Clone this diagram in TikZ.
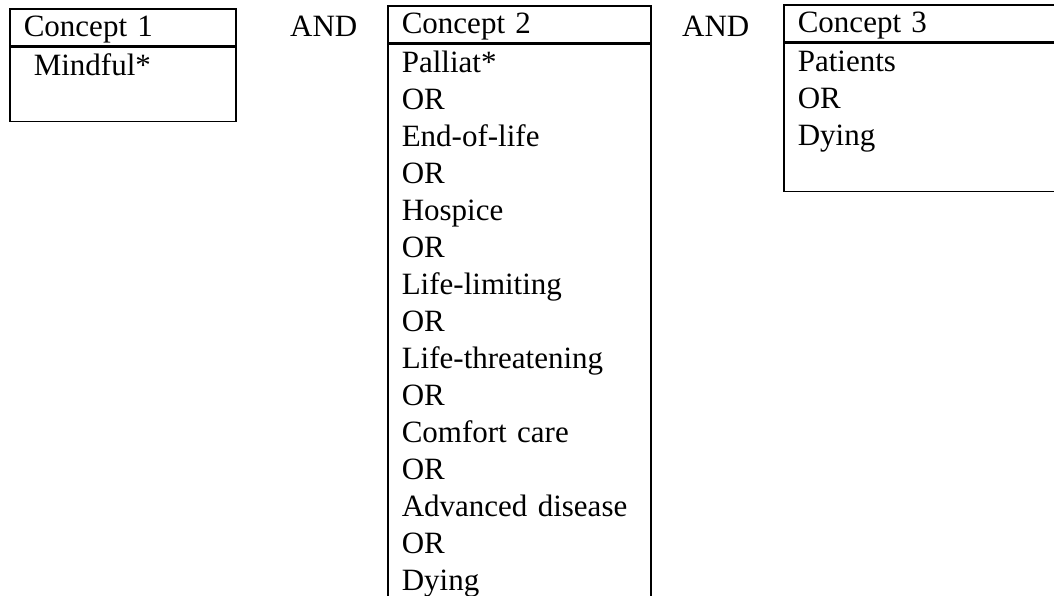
\documentclass[tikz,border=0pt]{standalone}
\usepackage{fontspec}
\setmainfont{Liberation Serif}
\usetikzlibrary{positioning}

\newcommand{\rowstrut}{\rule[-9pt]{0pt}{37pt}}
\tikzset{
    cbox/.style={draw, line width=1.6pt, inner xsep=14pt, inner ysep=0pt, align=left, font=\fontsize{31}{37}\selectfont},
    andlabel/.style={inner sep=0pt, anchor=base west, font=\fontsize{31}{37}\selectfont}
}

\begin{document}
\begin{tikzpicture}[x=1pt,y=-1pt]
    \useasboundingbox (0,0) rectangle (1054,596);
    \clip (0,0) rectangle (1054,596);

    % concept 1
    \node [cbox,text width=198pt,anchor=north west] (head1) at (9,8) {\rowstrut Concept 1};
    \node [cbox,text width=198pt,below=0pt of head1] (body1) {\rowstrut\hspace*{10pt}Mindful*\\ \rowstrut};

    \node [andlabel] (and1) at (290,37) {AND};

    % concept 2
    \node [cbox,text width=235pt,anchor=north west] (head2) at (387,5) {\rowstrut Concept 2};
    \node [cbox,text width=235pt,below=0pt of head2] (body2) {\rowstrut Palliat*\\ \rowstrut OR\\ \rowstrut End-of-life\\ \rowstrut OR\\ \rowstrut Hospice\\ \rowstrut OR\\ \rowstrut Life-limiting\\ \rowstrut OR\\ \rowstrut Life-threatening\\ \rowstrut OR\\ \rowstrut Comfort care\\ \rowstrut OR\\ \rowstrut Advanced disease\\ \rowstrut OR\\ \rowstrut Dying};

    \node [andlabel] (and2) at (682,37) {AND};

    % concept 3
    \node [cbox,text width=264pt,anchor=north west] (head3) at (783,4) {\rowstrut Concept 3};
    \node [cbox,text width=264pt,below=0pt of head3] (body3) {\rowstrut Patients\\ \rowstrut OR\\ \rowstrut Dying\\ \rowstrut};
\end{tikzpicture}
\end{document}
